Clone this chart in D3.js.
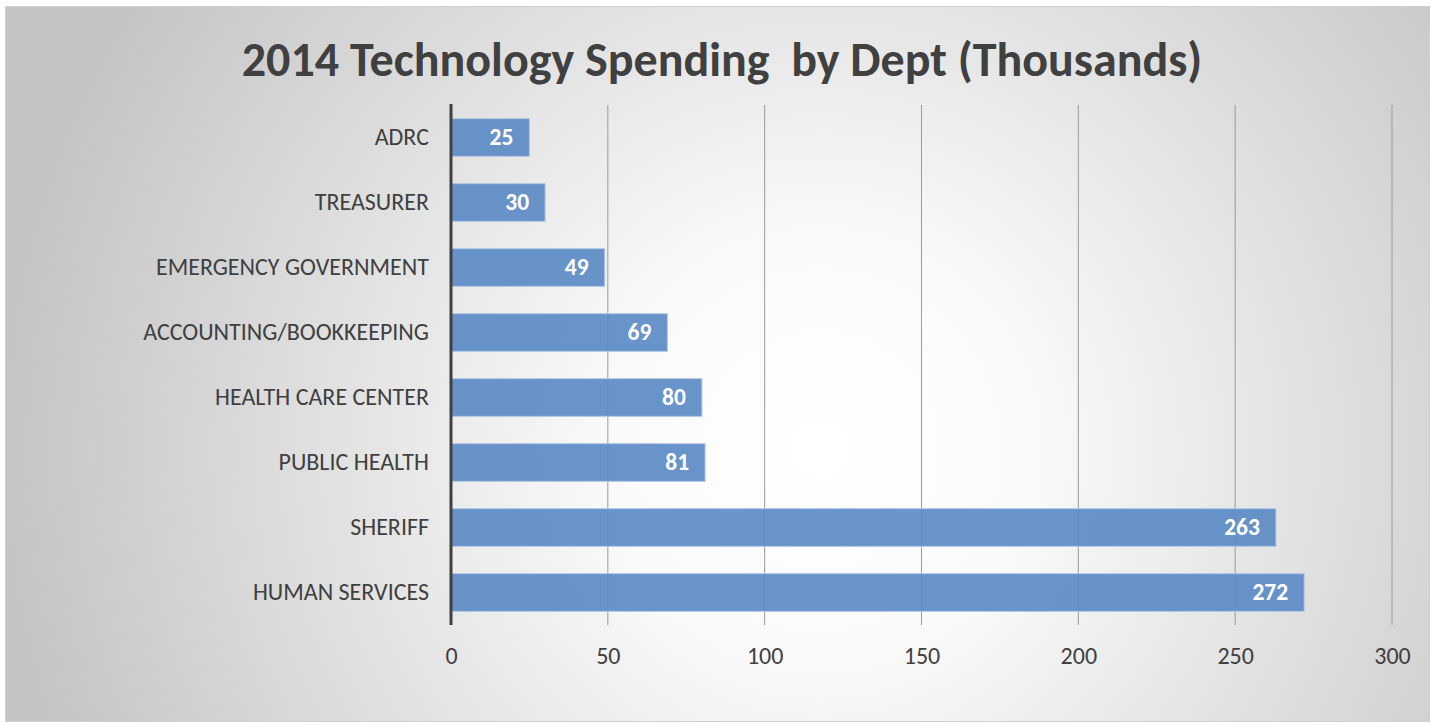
<!DOCTYPE html>
<html>
<head>
<meta charset="utf-8">
<script src="https://cdn.jsdelivr.net/npm/d3@7"></script>
<style>
  body { margin: 0; background: #fff; }
  text { font-family: Carlito, Lato, "Open Sans", "Noto Sans", sans-serif; }
</style>
</head>
<body>
<div id="chart-area"></div>
<script>
const departments = ["ADRC", "TREASURER", "EMERGENCY GOVERNMENT", "ACCOUNTING/BOOKKEEPING",
    "HEALTH CARE CENTER", "PUBLIC HEALTH", "SHERIFF", "HUMAN SERVICES"];
const spending = [25, 30, 49, 69, 80, 81, 263, 272];
const xTicks = [0, 50, 100, 150, 200, 250, 300];
const chartTitle = "2014 Technology Spending  by Dept (Thousands)";

const chartSize = { width: 1434, height: 725 };
const margin = { left: 451, right: 42, top: 105, bottom: 100 };
const width = chartSize.width - margin.left - margin.right;
const height = chartSize.height - margin.top - margin.bottom;
const fontStack = "Carlito, Lato, 'Open Sans', 'Noto Sans', sans-serif";

const svg = d3.select("#chart-area").append("svg")
    .attr("width", chartSize.width)
    .attr("height", chartSize.height);

const defs = svg.append("defs");
const grad = defs.append("radialGradient")
    .attr("id", "bg")
    .attr("gradientUnits", "userSpaceOnUse")
    .attr("cx", 820).attr("cy", 450).attr("r", 820);
grad.append("stop").attr("offset", "0%").attr("stop-color", "#ffffff");
grad.append("stop").attr("offset", "25%").attr("stop-color", "#fafafa");
grad.append("stop").attr("offset", "100%").attr("stop-color", "#c4c4c4");

svg.append("rect")
    .attr("x", 5.5).attr("y", 6.5)
    .attr("width", 1424).attr("height", 715)
    .attr("fill", "url(#bg)")
    .attr("stroke", "#d0d0d0");

svg.append("text")
    .attr("x", 722)
    .attr("y", 76)
    .attr("text-anchor", "middle")
    .attr("font-size", 48)
    .attr("font-weight", "bold")
    .attr("fill", "#404040")
    .style("white-space", "pre")
    .text(chartTitle);

const g = svg.append("g").attr("transform", `translate(${margin.left}, ${margin.top})`);

const x = d3.scaleLinear().domain([0, 300]).range([0, width]);
const y = d3.scaleBand().domain(departments).range([0, height]).paddingInner(0.42).paddingOuter(0.21);

// gridlines
g.selectAll(".grid")
    .data(xTicks.slice(1))
    .join("line")
    .attr("class", "grid")
    .attr("x1", d => x(d)).attr("x2", d => x(d))
    .attr("y1", 0).attr("y2", height)
    .attr("stroke", "#9a9a9a")
    .attr("stroke-width", 1);

// bars
g.selectAll(".bar")
    .data(spending)
    .join("rect")
    .attr("class", "bar")
    .attr("x", 0)
    .attr("y", (d, i) => y(departments[i]))
    .attr("width", d => x(d))
    .attr("height", y.bandwidth())
    .attr("fill", "#5b8bc5")
    .attr("fill-opacity", 0.92)
    .attr("stroke", "#b4c8e4")
    .attr("stroke-width", 1);

// value labels
g.selectAll(".val")
    .data(spending)
    .join("text")
    .attr("class", "val")
    .attr("x", d => x(d) - 16)
    .attr("y", (d, i) => y(departments[i]) + y.bandwidth() / 2)
    .attr("dy", "0.34em")
    .attr("text-anchor", "end")
    .attr("font-size", 23.5)
    .attr("font-weight", "bold")
    .attr("fill", "#ffffff")
    .text(d => d);

// y axis
const yAxis = d3.axisLeft(y).tickSize(0).tickPadding(22);
const yg = g.append("g").call(yAxis);
yg.select(".domain").remove();
yg.selectAll("text").attr("font-size", 24).attr("fill", "#404040")
    .style("font-family", fontStack);

g.append("line")
    .attr("x1", 0).attr("x2", 0)
    .attr("y1", -1).attr("y2", height)
    .attr("stroke", "#404040")
    .attr("stroke-width", 3);

// x axis
const xAxis = d3.axisBottom(x).tickValues(xTicks).tickSize(0).tickPadding(22);
const xg = g.append("g").attr("transform", `translate(0, ${height})`).call(xAxis);
xg.select(".domain").remove();
xg.selectAll("text").attr("font-size", 24).attr("fill", "#404040")
    .style("font-family", fontStack);
</script>
</body>
</html>
